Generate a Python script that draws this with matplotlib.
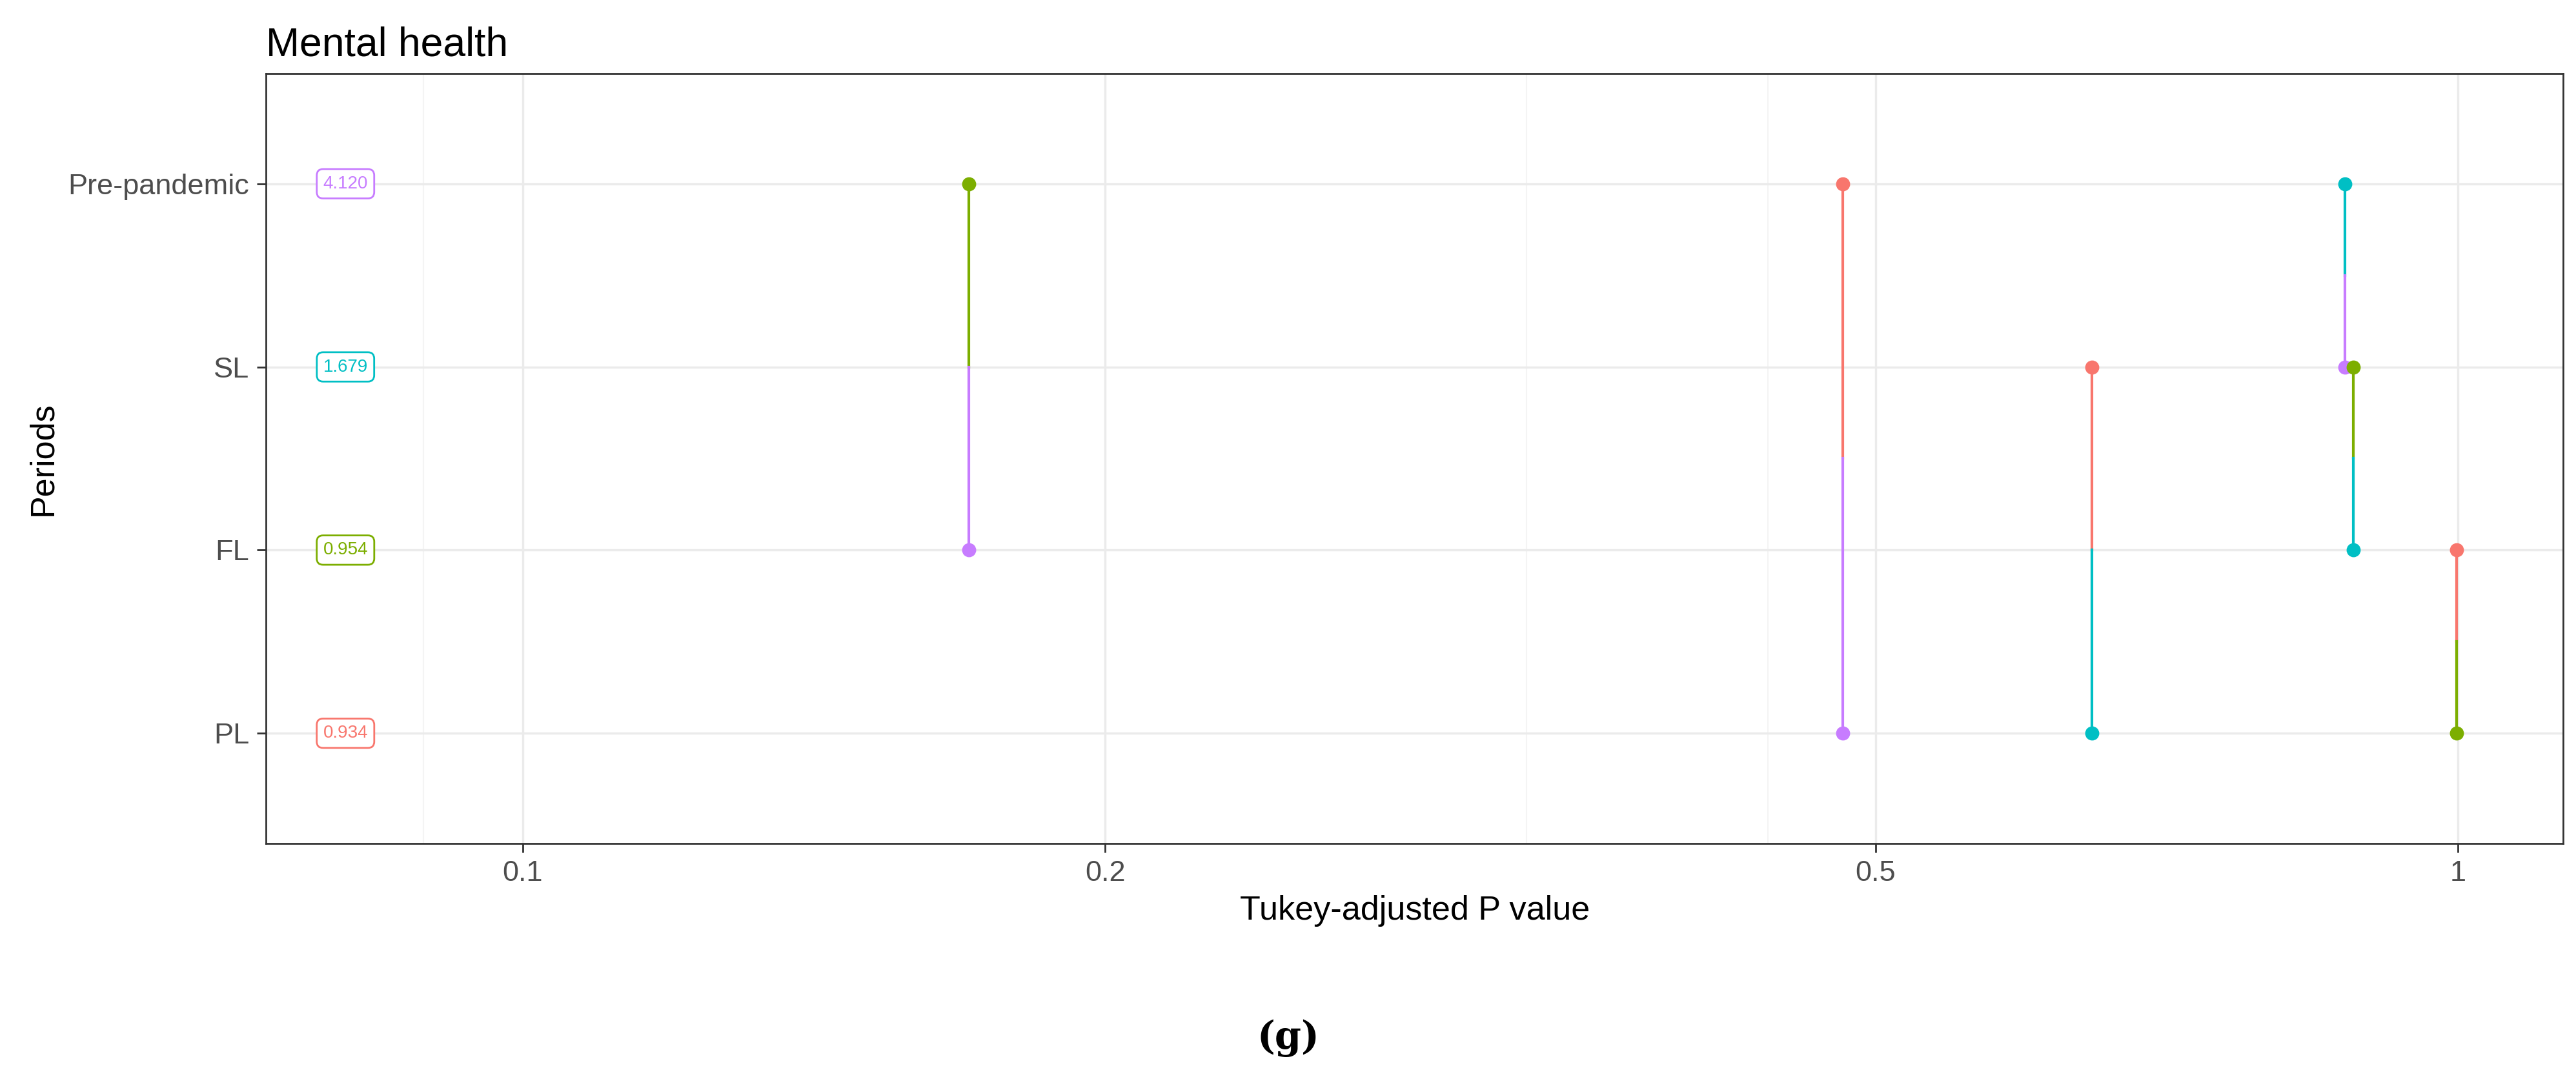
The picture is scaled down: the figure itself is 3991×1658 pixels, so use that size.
import matplotlib
matplotlib.use("Agg")
import matplotlib.pyplot as plt
import numpy as np

plt.rcParams['font.family'] = ['Liberation Sans', 'DejaVu Sans']

levels = ["PL", "FL", "SL", "Pre-pandemic"]
level_colors = ["#F8766D", "#7CAE00", "#00BFC4", "#C77CFF"]
means = ["0.934", "0.954", "1.679", "4.120"]
# pairwise comparisons: (level a, level b, p value)
pair_a = ["Pre-pandemic", "Pre-pandemic", "SL", "Pre-pandemic", "SL", "FL"]
pair_b = ["FL", "PL", "PL", "SL", "FL", "PL"]
pvals = [0.170, 0.481, 0.647, 0.874, 0.883, 0.998]

col = dict(zip(levels, level_colors))
ypos = {l: i + 1 for i, l in enumerate(levels)}

fig = plt.figure(figsize=(15.964, 6.632), dpi=250)
ax = fig.add_axes([0.1033, 0.212, 0.8917, 0.719])
ax.set_xscale("log")
ax.set_xlim(0.0737, 1.133)
ax.set_ylim(0.4, 4.6)

for a, b, p in zip(pair_a, pair_b, pvals):
    ya, yb = ypos[a], ypos[b]
    mid = (ya + yb) / 2
    ax.plot([p, p], [ya, mid], color=col[b], lw=1.2, zorder=3)
    ax.plot([p, p], [mid, yb], color=col[a], lw=1.2, zorder=3)
    ax.scatter([p], [ya], color=col[b], s=28, zorder=4)
    ax.scatter([p], [yb], color=col[a], s=28, zorder=4)

for l, m in zip(levels, means):
    ax.text(0.081, ypos[l], m, color=col[l], fontsize=8, ha="center", va="center",
            bbox=dict(boxstyle="round,pad=0.35", fc="white", ec=col[l], lw=0.8), zorder=5)

ax.set_xticks([0.1, 0.2, 0.5, 1])
ax.set_xticklabels(["0.1", "0.2", "0.5", "1"])
ax.set_xticks([0.0889, 0.33, 0.44], minor=True)
ax.xaxis.set_minor_formatter(matplotlib.ticker.NullFormatter())
ax.set_yticks([ypos[l] for l in levels])
ax.set_yticklabels(levels)
ax.grid(which="major", color="#EBEBEB", lw=1.0)
ax.grid(which="minor", axis="x", color="#F4F4F4", lw=0.6)
ax.set_axisbelow(True)
ax.tick_params(axis="both", which="major", labelsize=13, colors="#4D4D4D", length=4, color="#333333")
ax.tick_params(which="minor", length=0)
for s in ax.spines.values():
    s.set_color("#333333"); s.set_linewidth(0.8)
ax.set_xlabel("Tukey-adjusted P value", fontsize=15)
ax.set_ylabel("Periods", fontsize=15)
ax.set_title("Mental health", loc="left", fontsize=18, pad=8)
fig.text(0.5, 0.03, "(g)", fontsize=17, fontweight="bold", family="DejaVu Serif", ha="center", va="center")
fig.savefig("out.png", dpi=250)
